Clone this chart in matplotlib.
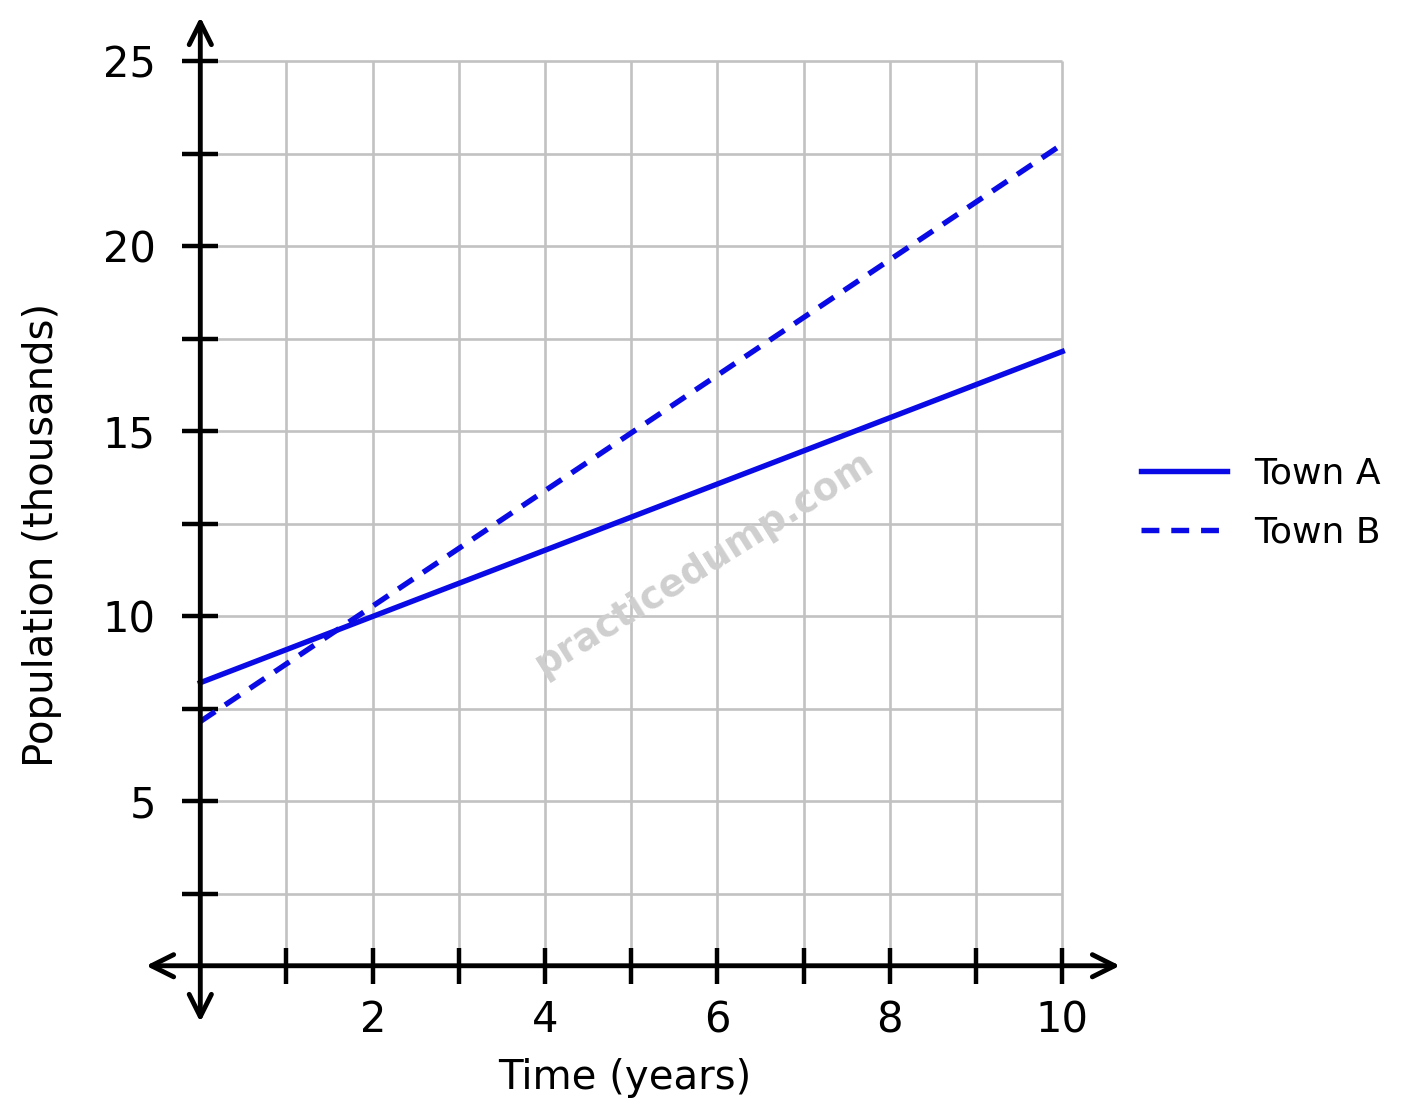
import matplotlib
matplotlib.use("Agg")
import matplotlib.pyplot as plt

# data
years = [0, 10]
town_a = [8.2, 17.15]
town_b = [7.15, 22.75]

x_ticks = list(range(1, 11))
x_labels = ["", "2", "", "4", "", "6", "", "8", "", "10"]
y_ticks = [2.5, 5, 7.5, 10, 12.5, 15, 17.5, 20, 22.5, 25]
y_labels = ["", "5", "", "10", "", "15", "", "20", "", "25"]

x_axis_at = 0.55
xlim = (-0.63, 10.67)
ylim = (-0.97, 26.19)

fig = plt.figure(figsize=(14.04, 11.2), dpi=100)
ax = fig.add_axes([146 / 1404, 98 / 1120, 974 / 1404, 1005 / 1120])
ax.set_xlim(xlim)
ax.set_ylim(ylim)

# grid only inside the first quadrant box
grid_col = "#c2c2c2"
ax.hlines(y_ticks, 0, 10, color=grid_col, lw=1.9, zorder=1)
ax.vlines(x_ticks, x_axis_at, 25, color=grid_col, lw=1.9, zorder=1)

# watermark
ax.text(5.85, 11.4, "practicedump.com", rotation=32, fontsize=27,
        fontweight="bold", color="#cfcfcf", ha="center", va="center", zorder=2)

blue = "#0a0ae6"
ax.plot(years, town_a, color=blue, lw=3.9, label="Town A", zorder=3)
ax.plot(years, town_b, color=blue, lw=3.9, dashes=(3.3, 2.2), label="Town B", zorder=3)

# axes with arrows at both ends
for s in ax.spines.values():
    s.set_visible(False)
ax.spines["left"].set_position(("data", 0))
ax.spines["bottom"].set_position(("data", x_axis_at))
arrow = dict(arrowstyle="<->", lw=3.5, color="black", mutation_scale=40,
             shrinkA=0, shrinkB=0)
ax.annotate("", xy=(xlim[1], x_axis_at), xytext=(xlim[0], x_axis_at),
            arrowprops=arrow, zorder=4)
ax.annotate("", xy=(0, ylim[1]), xytext=(0, ylim[0]),
            arrowprops=arrow, zorder=4)

ax.set_xticks(x_ticks)
ax.set_xticklabels(x_labels)
ax.set_yticks(y_ticks)
ax.set_yticklabels(y_labels)
ax.tick_params(direction="inout", length=26, width=3.2, labelsize=30)
ax.tick_params(axis="y", pad=19)
ax.tick_params(axis="x", pad=11)

fig.text(625 / 1404, 1 - 1078 / 1120, "Time (years)", fontsize=29,
         ha="center", va="center")
fig.text(42 / 1404, 1 - 535 / 1120, "Population (thousands)", fontsize=29,
         ha="center", va="center", rotation=90)

ax.legend(loc="center left", bbox_to_anchor=(1108 / 1404, 1 - 503 / 1120),
          bbox_transform=fig.transFigure, frameon=False, fontsize=26,
          handlelength=2.4, handletextpad=0.75, labelspacing=0.7)

fig.savefig("out.png", dpi=100)
